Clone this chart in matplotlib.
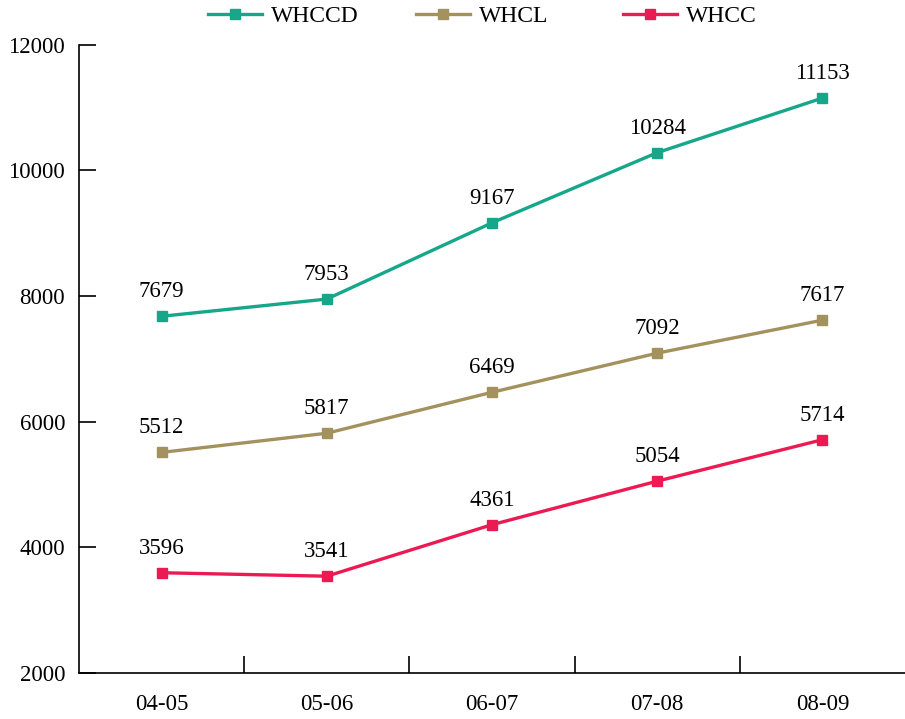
import matplotlib
matplotlib.use("Agg")
import matplotlib.pyplot as plt

plt.rcParams["font.family"] = ["Liberation Serif", "DejaVu Serif"]

years = ["04-05", "05-06", "06-07", "07-08", "08-09"]
whccd = [7679, 7953, 9167, 10284, 11153]
whcl = [5512, 5817, 6469, 7092, 7617]
whcc = [3596, 3541, 4361, 5054, 5714]

series = [
    ("WHCCD", whccd, "#16A68A"),
    ("WHCL", whcl, "#A3915E"),
    ("WHCC", whcc, "#EC1A52"),
]

fig = plt.figure(figsize=(9.05, 7.19), dpi=100)
ax = fig.add_axes([0.0873, 0.064, 0.9127, 0.8736])

x = list(range(len(years)))
lines = []
for name, vals, color in series:
    ln, = ax.plot(x, vals, color=color, linewidth=2.4, marker="s", markersize=7.5, label=name)
    lines.append(ln)
    for xi, v in zip(x, vals):
        ax.annotate(str(v), (xi, v), xytext=(0, 10), textcoords="offset points",
                    ha="center", va="bottom", fontsize=16.5)

ax.set_xlim(-0.5, 4.5)
ax.set_ylim(2000, 12000)
ax.set_yticks(range(2000, 12001, 2000))
ax.set_xticks(x)
ax.set_xticklabels(years)
ax.set_xticks([0.5, 1.5, 2.5, 3.5], minor=True)
ax.tick_params(axis="x", which="major", length=0, pad=15, labelsize=16.5)
ax.tick_params(axis="x", which="minor", direction="in", length=12, width=1.2)
ax.tick_params(axis="y", direction="in", length=12, width=1.2, pad=10, labelsize=16.5)

for side in ["top", "right"]:
    ax.spines[side].set_visible(False)
for side in ["left", "bottom"]:
    ax.spines[side].set_linewidth(1.2)

# one legend per series so the entries sit at even spacing
for ln, xpos in zip(lines, [208, 416, 623]):
    fig.legend([ln], [ln.get_label()], loc="center left",
               bbox_to_anchor=(xpos / 905, 1 - 16 / 719), frameon=False,
               fontsize=17, handlelength=2.3, handletextpad=0.35,
               borderpad=0, borderaxespad=0)

fig.savefig("out.png", dpi=100)
